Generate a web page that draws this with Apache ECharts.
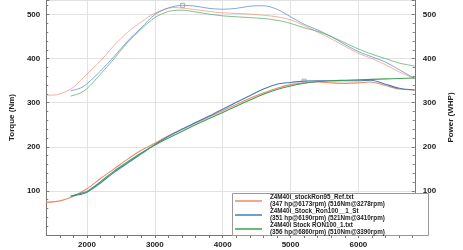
<!DOCTYPE html>
<html><head><meta charset="utf-8">
<script src="https://cdn.jsdelivr.net/npm/echarts@6/dist/echarts.min.js"></script>
<style>html,body{margin:0;padding:0;background:#fff}#c{width:463px;height:250px}</style>
</head><body><div id="c"></div>
<script>
// Series names and legend stats
const seriesNames = ['Z4M40i_stockRon95_Ref.txt', 'Z4M40i_Stock_Ron100__1_St', 'Z4M40i Stock RON100_1.txt'];
const seriesStats = ['(347 hp@6173rpm) (516Nm@3278rpm)', '(351 hp@6190rpm) (521Nm@3410rpm)', '(356 hp@6860rpm) (510Nm@3390rpm)'];
const xTicks = [2000, 3000, 4000, 5000, 6000];
const yTicks = [100, 200, 300, 400, 500];

// Torque (Nm) [rpm, value]
const torqueRef = [[1400,317],[1550,318],[1700,326],[1800,335],[2000,365],[2200,395],[2400,430],[2600,460],[2800,483],[3000,503],[3278,516],[3500,513],[3800,507],[4000,504],[4400,501],[4800,495],[5000,488],[5200,475],[5400,460],[5600,445],[5800,428],[6000,412],[6200,400],[6400,386],[6600,370],[6830,355]];
const torqueRon100a = [[1760,327],[1900,333],[2000,343],[2200,372],[2400,405],[2600,440],[2800,470],[3000,500],[3200,515],[3410,521],[3600,519],[3800,514],[4000,512],[4200,514],[4400,519],[4600,520],[4800,512],[5000,495],[5200,478],[5400,465],[5600,450],[5800,432],[6000,416],[6200,404],[6400,392],[6600,375],[6830,355]];
const torqueRon100b = [[1760,315],[1900,322],[2000,332],[2200,365],[2400,400],[2600,437],[2800,467],[3000,493],[3200,507],[3390,510],[3600,506],[3800,501],[4000,497],[4200,495],[4400,493],[4600,491],[4800,487],[5000,480],[5200,470],[5400,462],[5600,450],[5800,436],[6000,422],[6200,410],[6400,400],[6600,390],[6830,383]];

// Power (WHP) [rpm, value]
const powerRef = [[1400,74],[1620,78],[1800,88],[2000,105],[2200,128],[2400,150],[2600,172],[2800,192],[3000,208],[3200,225],[3400,240],[3600,254],[3800,268],[4000,282],[4200,296],[4400,310],[4600,322],[4800,333],[5000,341],[5200,345],[5400,347],[5600,345],[5800,344],[6000,345],[6173,347],[6400,339],[6600,331],[6830,329]];
const powerRon100a = [[1760,88],[1900,92],[2000,97],[2200,118],[2400,142],[2600,163],[2800,184],[3000,205],[3200,224],[3400,240],[3600,255],[3800,270],[4000,285],[4200,301],[4400,316],[4600,331],[4800,342],[5000,346],[5200,349],[5400,350],[5600,350],[5800,350],[6000,350],[6190,351],[6400,342],[6600,333],[6830,329]];
const powerRon100b = [[1760,88],[1900,94],[2000,99],[2200,121],[2400,145],[2600,166],[2800,186],[3000,204],[3200,220],[3400,235],[3600,250],[3800,264],[4000,278],[4200,292],[4400,306],[4600,319],[4800,330],[5000,338],[5200,344],[5400,348],[5600,350],[5800,351],[6000,352],[6200,353],[6400,354],[6600,355],[6830,356]];

// small cursor markers [rpm, value]
const torqueMarker = [3410, 521];
const powerMarker = [5200, 349];

const colors = ['#ef8a68', '#3f7cbf', '#3e9e55'];
const torque = [torqueRef, torqueRon100a, torqueRon100b];
const power = [powerRef, powerRon100a, powerRon100b];

const FONT = 'Liberation Sans, Arial, sans-serif';
const axisLabelStyle = {fontFamily: FONT, fontWeight: 'bold', fontSize: 8, color: '#222'};
const gridColor = '#e2e2e2';

const markerStyle = (coord) => ({
  symbol: 'rect', symbolSize: 4, silent: true, label: {show: false},
  itemStyle: {color: 'rgba(255,255,255,0)', borderColor: '#8a9bb0', borderWidth: 0.8},
  data: [{coord: coord}]
});

const series = [];
for (let i = 0; i < 3; i++) {
  const s = {name: seriesNames[i], type: 'line', yAxisIndex: 0, data: torque[i], smooth: 0.3, showSymbol: false,
    lineStyle: {color: colors[i], width: 1, opacity: 0.65}, itemStyle: {color: colors[i]}, z: 2};
  if (i === 1) s.markPoint = markerStyle(torqueMarker);
  series.push(s);
}
for (let i = 0; i < 3; i++) {
  const s = {name: seriesNames[i], type: 'line', yAxisIndex: 1, data: power[i], smooth: 0.3, showSymbol: false,
    lineStyle: {color: colors[i], width: 1.1}, itemStyle: {color: colors[i]}, z: 3};
  if (i === 1) s.markPoint = markerStyle(powerMarker);
  series.push(s);
}

const chart = echarts.init(document.getElementById('c'), null, {renderer: 'canvas'});
chart.setOption({
  animation: false,
  backgroundColor: '#fff',
  grid: {left: 36, right: 35, top: 0, bottom: 15, containLabel: false},
  xAxis: {
    type: 'value', min: 1400, max: 6830, interval: 200,
    axisLine: {show: true, onZero: false, lineStyle: {color: '#777'}},
    axisTick: {show: true, length: 3, lineStyle: {color: '#777'}},
    axisLabel: Object.assign({margin: 6, showMinLabel: false, showMaxLabel: false,
      formatter: v => xTicks.includes(v) ? String(v) : ''}, axisLabelStyle),
    splitLine: {show: true, lineStyle: {width: 1, color: ['rgba(0,0,0,0)', 'rgba(0,0,0,0)', 'rgba(0,0,0,0)', gridColor, 'rgba(0,0,0,0)']}}
  },
  yAxis: [{
    type: 'value', min: 0, max: 533, interval: 100, position: 'left',
    name: 'Torque (Nm)', nameLocation: 'middle', nameGap: 27, nameRotate: 90,
    nameTextStyle: {fontFamily: FONT, fontWeight: 'bold', fontSize: 8, color: '#222'},
    axisLine: {show: true, lineStyle: {color: '#777'}},
    axisTick: {show: true, inside: true, length: 3, lineStyle: {color: '#777'}},
    minorTick: {show: true, splitNumber: 5, length: 2, lineStyle: {color: '#777'}},
    axisLabel: Object.assign({margin: 6, showMinLabel: false, showMaxLabel: false,
      formatter: v => yTicks.includes(v) ? String(v) : ''}, axisLabelStyle),
    splitLine: {show: true, lineStyle: {color: gridColor, width: 1}}
  }, {
    type: 'value', min: 0, max: 533, interval: 100, position: 'right',
    name: 'Power (WHP)', nameLocation: 'middle', nameGap: 30, nameRotate: 90,
    nameTextStyle: {fontFamily: FONT, fontWeight: 'bold', fontSize: 8, color: '#222'},
    axisLine: {show: true, lineStyle: {color: '#777'}},
    axisTick: {show: true, inside: true, length: 3, lineStyle: {color: '#777'}},
    minorTick: {show: true, splitNumber: 5, length: 2, lineStyle: {color: '#777'}},
    axisLabel: Object.assign({margin: 8, showMinLabel: false, showMaxLabel: false,
      formatter: v => yTicks.includes(v) ? String(v) : ''}, axisLabelStyle),
    splitLine: {show: false}
  }],
  graphic: [{type: 'rect', left: 232, top: 193, z: 5,
    shape: {width: 196, height: 42}, style: {fill: '#fff', stroke: '#999', lineWidth: 1}}],
  legend: {
    show: true, orient: 'vertical', left: 235, top: 194, z: 10,
    data: seriesNames, icon: 'rect', itemWidth: 27, itemHeight: 1.5, itemGap: 0,
    padding: 0,
    formatter: name => name + '\n' + seriesStats[seriesNames.indexOf(name)],
    textStyle: {fontFamily: FONT, fontWeight: 'bold', fontSize: 6.3, color: '#222', lineHeight: 7, padding: [0, 0, 0, 3]},
    selectedMode: false
  },
  series: series
});
</script></body></html>
